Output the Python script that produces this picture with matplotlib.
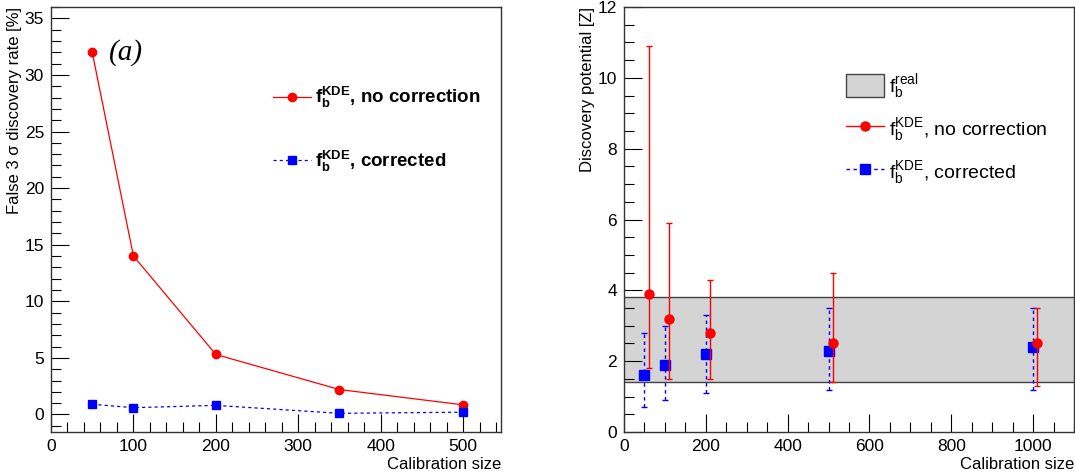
import matplotlib
matplotlib.use("Agg")
import matplotlib.pyplot as plt
from matplotlib.patches import Patch
from matplotlib.lines import Line2D
from matplotlib.ticker import MultipleLocator

plt.rcParams['font.family'] = ['Liberation Sans', 'DejaVu Sans']
plt.rcParams['mathtext.fontset'] = 'custom'
plt.rcParams['mathtext.rm'] = 'Liberation Sans'
plt.rcParams['mathtext.it'] = 'Liberation Sans:italic'
plt.rcParams['mathtext.bf'] = 'Liberation Sans:bold'

# false discovery rate vs calibration size
calib_a = [50, 100, 200, 350, 500]
fdr_nocorr = [32.0, 14.0, 5.3, 2.2, 0.85]
fdr_corr = [0.9, 0.6, 0.8, 0.1, 0.2]

# discovery potential vs calibration size
calib_nocorr = [60, 110, 210, 510, 1010]
z_nocorr = [3.9, 3.2, 2.8, 2.5, 2.5]
z_nocorr_lo = [1.8, 1.5, 1.5, 1.4, 1.3]
z_nocorr_hi = [10.9, 5.9, 4.3, 4.5, 3.5]

calib_corr = [50, 100, 200, 500, 1000]
z_corr = [1.6, 1.9, 2.2, 2.3, 2.4]
z_corr_lo = [0.7, 0.9, 1.1, 1.2, 1.2]
z_corr_hi = [2.8, 3.0, 3.3, 3.5, 3.5]

# band from the real background pdf
z_real_lo, z_real_hi = 1.4, 3.8

lab_nocorr = ", no correction"
lab_corr = ", corrected"

fig = plt.figure(figsize=(10.75, 4.76), dpi=100)
W, H = 1075, 476
ax1 = fig.add_axes([51 / W, 1 - 432 / H, 450 / W, 425 / H])
ax2 = fig.add_axes([624 / W, 1 - 432 / H, 450 / W, 425 / H])


def root_style(ax):
    ax.tick_params(which='both', direction='in', top=False, right=False,
                   labelsize=12.5, width=0.8, pad=5)
    ax.tick_params(which='major', length=13)
    ax.tick_params(which='minor', length=7)
    for s in ax.spines.values():
        s.set_linewidth(1.0)
        s.set_color('#333333')


# ---- left: false discovery rate
ax1.plot(calib_a, fdr_nocorr, color='red', lw=0.9, marker='o', ms=6,
         mec='red', mfc='red')
ax1.plot(calib_a, fdr_corr, color='blue', lw=0.9, ls=(0, (2.5, 2.5)),
         marker='s', ms=5.5, mec='blue', mfc='blue')
ax1.set_xlim(0, 546)
ax1.set_ylim(-1.55, 36)
ax1.xaxis.set_major_locator(MultipleLocator(100))
ax1.xaxis.set_minor_locator(MultipleLocator(20))
ax1.yaxis.set_major_locator(MultipleLocator(5))
ax1.yaxis.set_minor_locator(MultipleLocator(1))
root_style(ax1)
ax1.set_xlabel("Calibration size", fontsize=12, loc='right', labelpad=2)
ax1.set_ylabel("False 3 σ discovery rate [%]", fontsize=12, loc='top', labelpad=2)
ax1.text(70, 32, "(a)", fontsize=21, family='Liberation Serif', style='italic',
         va='center', ha='left')

h_red = Line2D([], [], color='red', lw=0.9, marker='o', ms=6)
h_blue = Line2D([], [], color='blue', lw=0.9, ls=(0, (2.5, 2.5)), marker='s', ms=5.5)
lg1 = ax1.legend([h_red, h_blue],
                 [r'$\mathbf{f}_\mathbf{b}^\mathbf{KDE}$' + lab_nocorr,
                  r'$\mathbf{f}_\mathbf{b}^\mathbf{KDE}$' + lab_corr],
                 loc='upper left', bbox_to_anchor=(273 / W, 1 - 85 / H),
                 bbox_transform=fig.transFigure, frameon=False,
                 prop={'weight': 'bold', 'size': 13.5}, handlelength=2.0,
                 handletextpad=0.25, labelspacing=2.05, borderpad=0,
                 borderaxespad=0)

# ---- right: discovery potential
ax2.axhspan(z_real_lo, z_real_hi, facecolor='#d4d4d4', edgecolor='none', zorder=0)
ax2.axhline(z_real_lo, color='#444444', lw=1.0, zorder=1)
ax2.axhline(z_real_hi, color='#444444', lw=1.0, zorder=1)

err_nc = [[v - lo for v, lo in zip(z_nocorr, z_nocorr_lo)],
          [hi - v for v, hi in zip(z_nocorr, z_nocorr_hi)]]
err_c = [[v - lo for v, lo in zip(z_corr, z_corr_lo)],
         [hi - v for v, hi in zip(z_corr, z_corr_hi)]]

eb_c = ax2.errorbar(calib_corr, z_corr, yerr=err_c, fmt='s', color='blue',
                    ms=6.5, lw=1.0, capsize=2, capthick=1.0, zorder=3)
eb_c[2][0].set_linestyle((0, (2.5, 2.5)))
ax2.errorbar(calib_nocorr, z_nocorr, yerr=err_nc, fmt='o', color='red',
             ms=6.5, lw=1.0, capsize=2.5, capthick=1.0, zorder=4)

ax2.set_xlim(0, 1100)
ax2.set_ylim(0, 12)
ax2.xaxis.set_major_locator(MultipleLocator(200))
ax2.xaxis.set_minor_locator(MultipleLocator(50))
ax2.yaxis.set_major_locator(MultipleLocator(2))
ax2.yaxis.set_minor_locator(MultipleLocator(0.5))
root_style(ax2)
ax2.set_xlabel("Calibration size", fontsize=12, loc='right', labelpad=2)
ax2.set_ylabel("Discovery potential [Z]", fontsize=12, loc='top', labelpad=2)

h_band = Patch(facecolor='#d4d4d4', edgecolor='#444444', lw=1.0)
h_red2 = Line2D([], [], color='red', lw=1.0, marker='o', ms=6.5)
h_blue2 = Line2D([], [], color='blue', lw=1.0, ls=(0, (2.5, 2.5)), marker='s', ms=6.5)
lg2 = ax2.legend([h_band, h_red2, h_blue2],
                 [r'$\mathrm{f}_\mathrm{b}^\mathrm{real}$',
                  r'$\mathrm{f}_\mathrm{b}^\mathrm{KDE}$' + lab_nocorr,
                  r'$\mathrm{f}_\mathrm{b}^\mathrm{KDE}$' + lab_corr],
                 loc='upper left', bbox_to_anchor=(846 / W, 1 - 72 / H),
                 bbox_transform=fig.transFigure, frameon=False,
                 prop={'size': 14}, handlelength=1.95, handleheight=1.5,
                 handletextpad=0.25, labelspacing=0.8, borderpad=0,
                 borderaxespad=0)

fig.savefig("out.png", dpi=100)
